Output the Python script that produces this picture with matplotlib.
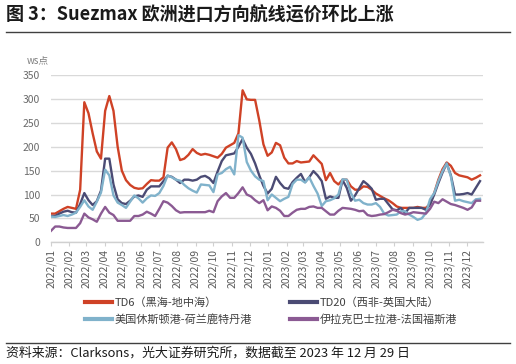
import matplotlib
matplotlib.use('Agg')
import matplotlib.pyplot as plt
import matplotlib.dates as mdates
import pandas as pd
from matplotlib.lines import Line2D

plt.rcParams['font.family'] = ['Noto Sans CJK SC', 'DejaVu Sans']

# weekly data, 2022-01-07 .. 2023-12-29
dates = pd.date_range('2022-01-07', periods=104, freq='7D')

td6 = [60, 60, 65, 70, 74, 72, 70, 110, 293, 270, 228, 190, 175, 275, 306, 275,
       200, 150, 130, 120, 114, 112, 113, 122, 130, 129, 129, 136, 198, 209, 195, 172,
       175, 183, 195, 187, 183, 185, 183, 180, 177, 185, 198, 203, 208, 228, 318, 299,
       298, 298, 255, 205, 181, 188, 208, 203, 177, 165, 165, 170, 167, 168, 169, 182,
       173, 164, 130, 145, 128, 121, 131, 131, 117, 110, 110, 117, 116, 110, 102, 97,
       92, 88, 82, 75, 72, 72, 72, 72, 74, 72, 72, 80, 103, 131, 153, 167,
       160, 145, 140, 138, 136, 131, 135, 140]

td20 = [55, 55, 60, 64, 66, 63, 62, 80, 103, 88, 78, 86, 108, 175, 175, 121,
        90, 82, 80, 87, 96, 98, 95, 110, 117, 117, 117, 128, 139, 137, 131, 124,
        131, 131, 129, 131, 137, 139, 134, 124, 148, 170, 182, 184, 186, 200, 216, 198,
        185, 165, 140, 118, 102, 112, 137, 124, 114, 112, 126, 135, 143, 126, 136, 149,
        140, 128, 91, 96, 93, 93, 130, 114, 87, 98, 113, 128, 121, 112, 89, 91,
        91, 80, 69, 67, 72, 61, 72, 72, 72, 72, 68, 79, 100, 124, 146, 165,
        140, 100, 100, 101, 103, 100, 114, 128]

houston_rtm = [54, 53, 55, 57, 55, 58, 62, 74, 88, 75, 68, 85, 104, 152, 140, 98,
               83, 78, 72, 85, 98, 92, 83, 92, 98, 97, 103, 118, 140, 136, 131, 129,
               120, 113, 108, 104, 121, 120, 119, 105, 142, 145, 153, 158, 142, 224, 219, 168,
               150, 138, 131, 128, 88, 100, 93, 86, 91, 95, 122, 131, 131, 125, 136, 118,
               102, 76, 86, 88, 92, 100, 132, 131, 103, 87, 89, 82, 79, 79, 82, 74,
               60, 56, 57, 58, 65, 65, 58, 53, 47, 50, 61, 90, 103, 128, 149, 165,
               138, 87, 89, 86, 84, 82, 90, 91]

basrah_fos = [24, 33, 33, 31, 30, 30, 30, 40, 60, 52, 48, 43, 60, 74, 62, 57,
              45, 45, 45, 45, 55, 55, 58, 64, 60, 55, 70, 86, 83, 76, 67, 62,
              63, 63, 63, 63, 63, 63, 66, 63, 86, 96, 103, 93, 93, 103, 115, 100,
              96, 88, 82, 88, 67, 75, 72, 66, 55, 55, 62, 68, 70, 70, 74, 75,
              72, 72, 65, 58, 58, 66, 72, 71, 70, 68, 65, 66, 57, 55, 56, 58,
              59, 63, 68, 66, 61, 58, 60, 63, 62, 61, 60, 70, 85, 82, 90, 85,
              80, 78, 75, 72, 68, 73, 87, 87]

labels = ['TD6（黑海-地中海）', 'TD20（西非-英国大陆）',
          '美国休斯顿港-荷兰鹿特丹港', '伊拉克巴士拉港-法国福斯港']
colors = ['#CF4226', '#4B4B74', '#80B2CB', '#8B5A93']
yticks = [0, 50, 100, 150, 200, 250, 300, 350]

W, H = 516, 364
fig = plt.figure(figsize=(W / 100, H / 100), dpi=100)
ax = fig.add_axes([51 / W, 1 - 242.3 / H, (483 - 51) / W, (242.3 - 75) / H])

for series, color, label in zip([td6, td20, houston_rtm, basrah_fos], colors, labels):
    ax.plot(dates, series, color=color, lw=1.7, label=label, solid_joinstyle='round')

ax.set_ylim(0, 350)
ax.set_yticks(yticks)
ax.set_xlim(pd.Timestamp('2022-01-07'), pd.Timestamp('2024-01-03'))
month_ticks = pd.date_range('2022-01-07', '2023-12-07', freq=pd.DateOffset(months=1))
ax.set_xticks(month_ticks)
ax.xaxis.set_major_formatter(mdates.DateFormatter('%Y/%m'))
ax.tick_params(axis='x', labelrotation=90, labelsize=7.5, colors='#595959',
               length=3, width=0.8, color='#d0d0d0', pad=2)
ax.tick_params(axis='y', labelsize=7.5, colors='#6a6a6a', length=0, pad=8)
ax.grid(axis='y', color='#d9d9d9', lw=1.0)
ax.set_axisbelow(True)
for side in ['top', 'right', 'left']:
    ax.spines[side].set_visible(False)
ax.spines['bottom'].set_color('#d0d0d0')
ax.spines['bottom'].set_linewidth(1.0)

fig.text(27 / W, 1 - 60 / H, 'ws点', fontsize=7, color='#808080', va='center')

# legend fills column-wise, so order to get TD6/TD20 on the first row
order = [0, 2, 1, 3]
handles = [Line2D([], [], color=colors[k], lw=3) for k in order]
fig.legend(handles, [labels[k] for k in order], loc='upper left',
           bbox_to_anchor=(85 / W, 1 - 297 / H),
           ncol=2, frameon=False, fontsize=8, handlelength=2.4, handletextpad=0.3,
           columnspacing=3.4, labelspacing=0.6, borderpad=0, borderaxespad=0,
           labelcolor='#404040')

fig.text(6 / W, 1 - 15.5 / H, '图 3：Suezmax 欧洲进口方向航线运价环比上涨',
         fontsize=13, fontweight='bold', va='center', color='#1a1a1a')
fig.add_artist(Line2D([6 / W, 510 / W], [1 - 31.7 / H, 1 - 31.7 / H],
                      color='#404040', lw=1.0))
fig.add_artist(Line2D([6 / W, 510 / W], [1 - 343.3 / H, 1 - 343.3 / H],
                      color='#404040', lw=1.0))
fig.text(6 / W, 1 - 352.7 / H, '资料来源：Clarksons，光大证券研究所，数据截至 2023 年 12 月 29 日',
         fontsize=9.3, va='center', color='#1a1a1a')

fig.savefig('out.png', dpi=100)
